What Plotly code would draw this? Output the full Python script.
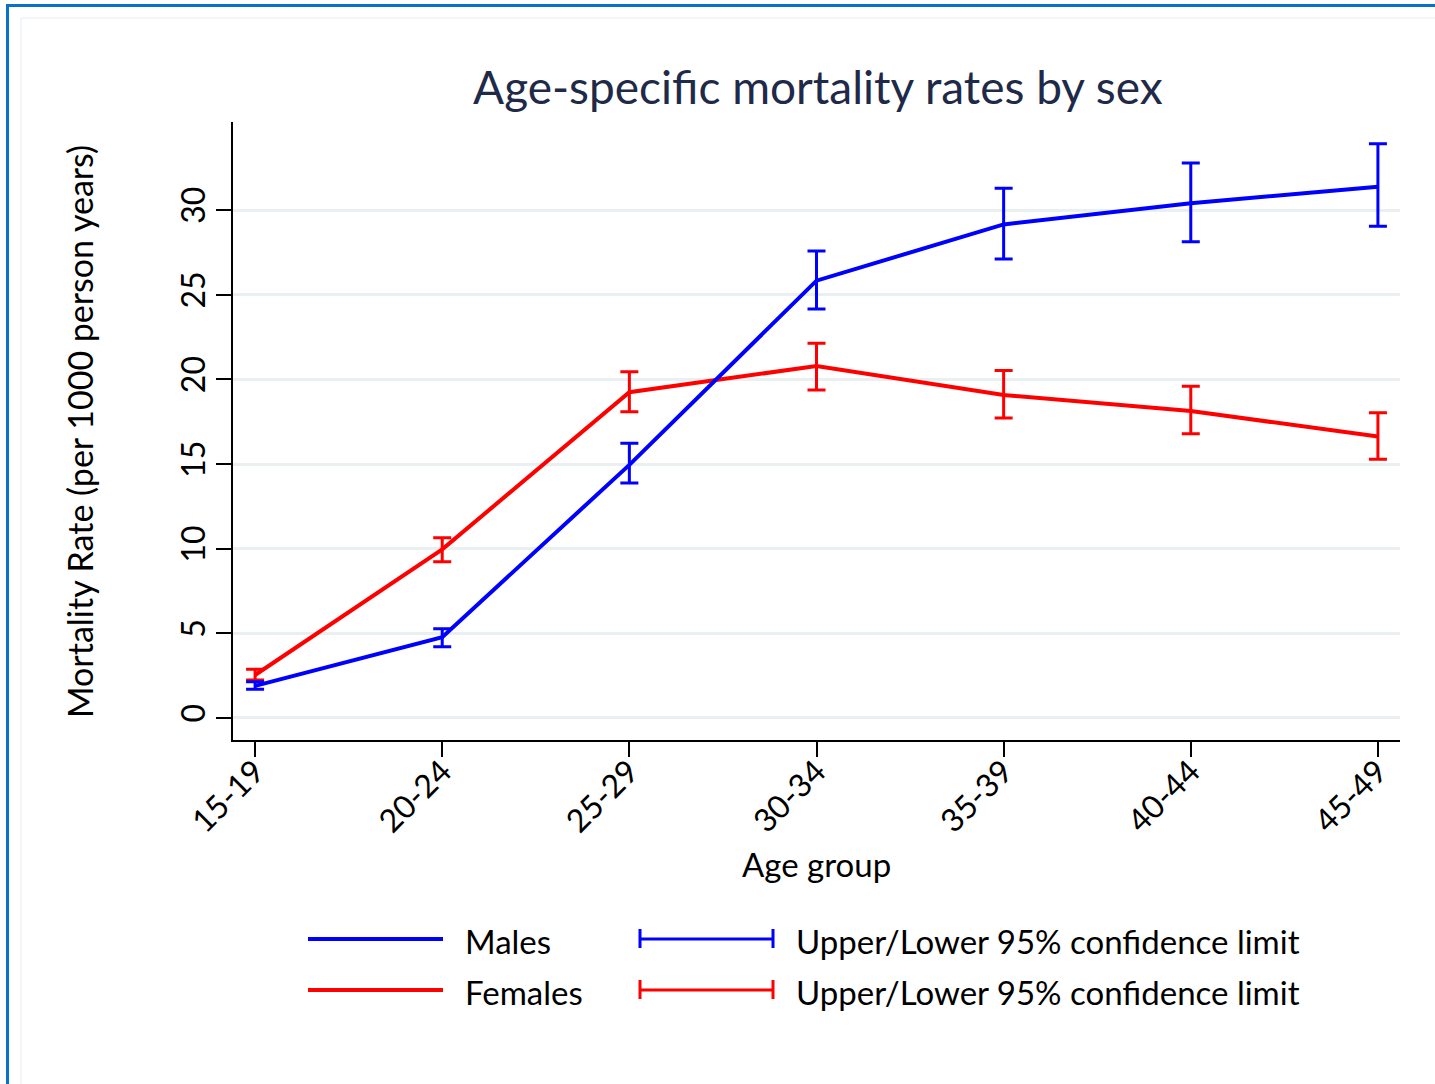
import plotly.graph_objects as go

# ---- data ----
age_groups = ["15-19", "20-24", "25-29", "30-34", "35-39", "40-44", "45-49"]
male_rate = [1.90, 4.77, 14.95, 25.83, 29.15, 30.40, 31.38]
male_upper = [2.14, 5.27, 16.22, 27.58, 31.28, 32.78, 33.92]
male_lower = [1.69, 4.21, 13.88, 24.16, 27.11, 28.13, 29.04]
female_rate = [2.54, 9.96, 19.24, 20.79, 19.08, 18.13, 16.62]
female_upper = [2.88, 10.65, 20.45, 22.13, 20.53, 19.59, 18.03]
female_lower = [2.24, 9.23, 18.09, 19.37, 17.72, 16.79, 15.28]
y_ticks = [0, 5, 10, 15, 20, 25, 30]

title_text = "Age-specific mortality rates by sex"
y_title = "Mortality Rate (per 1000 person years)"
x_title = "Age group"
ci_label = "Upper/Lower 95% confidence limit"

FONT = "Lato"
BLUE = "#0000FF"
RED = "#FF0000"

W, H = 1435, 1084
L, R, T, B = 233, 1400, 122, 740  # plot area in pixels


def px(x):
    return (x - L) / (R - L)


def py(y):
    return (B - y) / (B - T)


fig = go.Figure()

for name, rate, up, lo, col in [
    ("Females", female_rate, female_upper, female_lower, RED),
    ("Males", male_rate, male_upper, male_lower, BLUE),
]:
    fig.add_trace(go.Scatter(
        x=age_groups, y=rate, mode="lines", name=name,
        line=dict(color=col, width=4),
        error_y=dict(type="data", symmetric=False,
                     array=[u - r for u, r in zip(up, rate)],
                     arrayminus=[r - l for r, l in zip(rate, lo)],
                     color=col, thickness=3, width=9),
        showlegend=False,
    ))

shapes = []
# outer frame
shapes.append(dict(type="rect", xref="paper", yref="paper",
                   x0=px(21), x1=px(W + 20), y0=py(18), y1=py(H + 20),
                   line=dict(color="#E6EDF2", width=1), layer="below"))
shapes.append(dict(type="rect", xref="paper", yref="paper",
                   x0=px(7.5), x1=px(W + 20), y0=py(5.5), y1=py(H + 20),
                   line=dict(color="#0A72C6", width=3), layer="above"))

LEG_SIZE = 33
# custom legend
leg_rows = [(939, BLUE, "Males"), (990, RED, "Females")]
annotations = []
for yy, col, lab in leg_rows:
    shapes.append(dict(type="line", xref="paper", yref="paper",
                       x0=px(308), x1=px(443), y0=py(yy), y1=py(yy),
                       line=dict(color=col, width=4)))
    shapes.append(dict(type="line", xref="paper", yref="paper",
                       x0=px(640), x1=px(773), y0=py(yy), y1=py(yy),
                       line=dict(color=col, width=3)))
    for xc in (640, 773):
        shapes.append(dict(type="line", xref="paper", yref="paper",
                           x0=px(xc), x1=px(xc), y0=py(yy - 10), y1=py(yy + 9),
                           line=dict(color=col, width=3)))
    annotations.append(dict(text=lab, xref="paper", yref="paper",
                            x=px(463), y=py(yy + 2), xanchor="left", yanchor="middle",
                            showarrow=False, font=dict(family=FONT, size=LEG_SIZE, color="black")))
    annotations.append(dict(text=ci_label, xref="paper", yref="paper",
                            x=px(794), y=py(yy + 2), xanchor="left", yanchor="middle",
                            showarrow=False, font=dict(family=FONT, size=LEG_SIZE, color="black")))

annotations.append(dict(text=title_text, xref="paper", yref="paper",
                        x=px(818), y=py(86), xanchor="center", yanchor="middle",
                        showarrow=False, font=dict(family=FONT, size=46, color="#1F2A48")))
annotations.append(dict(text=y_title, xref="paper", yref="paper",
                        x=px(80), y=py(432), xanchor="center", yanchor="middle",
                        textangle=-90, showarrow=False,
                        font=dict(family=FONT, size=34, color="black")))
annotations.append(dict(text=x_title, xref="paper", yref="paper",
                        x=px(816), y=py(864), xanchor="center", yanchor="middle",
                        showarrow=False, font=dict(family=FONT, size=33, color="black")))

fig.update_layout(
    width=W, height=H,
    margin=dict(l=L, r=W - R, t=T, b=H - B),
    paper_bgcolor="white", plot_bgcolor="white",
    shapes=shapes, annotations=annotations,
    font=dict(family=FONT, color="black"),
    showlegend=False,
)
fig.update_xaxes(
    type="category", range=[-0.118, 6.118],
    showline=True, linecolor="black", linewidth=2,
    ticks="outside", ticklen=15, tickwidth=2, tickcolor="black",
    tickangle=-45, tickfont=dict(family=FONT, size=32, color="black"),
    ticklabelstandoff=-17,
    showgrid=False, zeroline=False, automargin=False,
)
fig.update_yaxes(
    range=[-1.3, 35.2], tickvals=y_ticks,
    showline=True, linecolor="black", linewidth=2,
    ticks="outside", ticklen=15, tickwidth=2, tickcolor="black",
    tickangle=-90, tickfont=dict(family=FONT, size=32, color="black"),
    ticklabelstandoff=-2,
    showgrid=True, gridcolor="#EAF0F2", gridwidth=3, zeroline=False,
    automargin=False,
)

fig.write_html("out.html", config={"displayModeBar": False},
               post_script="document.body.style.margin='0px';")
